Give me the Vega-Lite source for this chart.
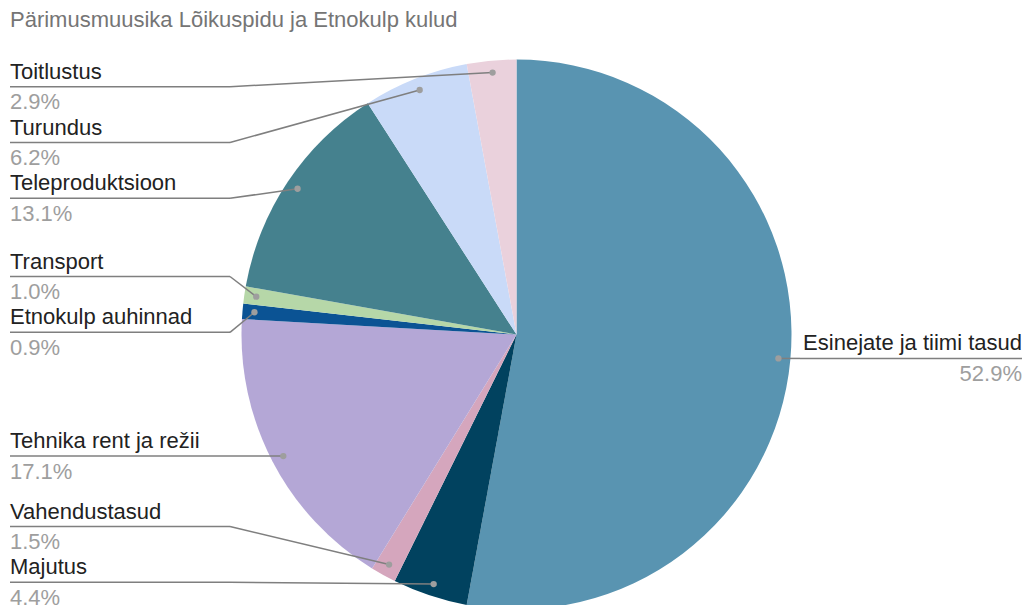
{
  "$schema": "https://vega.github.io/schema/vega-lite/v6.json",
  "width": 1033,
  "height": 589,
  "padding": {"left": 0, "top": 40, "right": 0, "bottom": 0},
  "autosize": {"type": "none"},
  "background": "white",
  "config": {"view": {"stroke": null}, "font": "Liberation Sans"},
  "title": {
    "text": "Pärimusmuusika Lõikuspidu ja Etnokulp kulud",
    "anchor": "start",
    "frame": "group",
    "dx": 10,
    "offset": 8,
    "fontSize": 22,
    "fontWeight": "normal",
    "color": "#757575",
    "font": "Liberation Sans"
  },
  "data": {
    "values": [
      {"kulu": "Esinejate ja tiimi tasud", "osa": 52.9},
      {"kulu": "Majutus", "osa": 4.4},
      {"kulu": "Vahendustasud", "osa": 1.5},
      {"kulu": "Tehnika rent ja režii", "osa": 17.1},
      {"kulu": "Etnokulp auhinnad", "osa": 0.9},
      {"kulu": "Transport", "osa": 1.0},
      {"kulu": "Teleproduktsioon", "osa": 13.1},
      {"kulu": "Turundus", "osa": 6.2},
      {"kulu": "Toitlustus", "osa": 2.9}
    ]
  },
  "transform": [
    {"window": [{"op": "row_number", "as": "jrk"}]},
    {"window": [{"op": "sum", "field": "osa", "as": "kum"}], "sort": [{"field": "jrk"}], "frame": [null, 0]},
    {"joinaggregate": [{"op": "sum", "field": "osa", "as": "kokku"}]},
    {"calculate": "2*PI*(datum.kum - datum.osa/2)/datum.kokku", "as": "nurk"},
    {"calculate": "516.5 + 263*sin(datum.nurk)", "as": "px"},
    {"calculate": "334.5 - 263*cos(datum.nurk)", "as": "py"},
    {"calculate": "datum.px < 516.5 ? 'L' : 'R'", "as": "pool"},
    {"window": [{"op": "row_number", "as": "i"}], "groupby": ["pool"], "sort": [{"field": "py"}]},
    {"joinaggregate": [{"op": "count", "as": "n"}], "groupby": ["pool"]},
    {"calculate": "datum.py - 55.8*datum.i", "as": "z"},
    {"window": [{"op": "max", "field": "z", "as": "zf"}], "groupby": ["pool"], "sort": [{"field": "py"}], "frame": [null, 0]},
    {"window": [{"op": "min", "field": "z", "as": "zb"}], "groupby": ["pool"], "sort": [{"field": "py"}], "frame": [0, null]},
    {"calculate": "max(86.7 - 55.8, datum.zf)", "as": "wf"},
    {"calculate": "min(582.3 - 55.8*datum.n, datum.zb)", "as": "wg"},
    {"window": [{"op": "min", "field": "wf", "as": "wfm"}], "groupby": ["pool"], "sort": [{"field": "py"}], "frame": [0, null]},
    {"window": [{"op": "max", "field": "wg", "as": "wgm"}], "groupby": ["pool"], "sort": [{"field": "py"}], "frame": [null, 0]},
    {"calculate": "55.8*datum.i + (min(582.3 - 55.8*datum.n, datum.wfm) + max(86.7 - 55.8, datum.wgm))/2", "as": "ly"},
    {"calculate": "datum.pool == 'L' ? 10 : 1022", "as": "lx"},
    {"calculate": "datum.pool == 'L' ? 230 : 800", "as": "ex"},
    {"calculate": "format(datum.osa, '.1f') + '%'", "as": "pct"}
  ],
  "layer": [
    {
      "mark": {"type": "arc", "radius": 275},
      "encoding": {
        "theta": {"field": "osa", "type": "quantitative", "stack": true},
        "order": {"field": "jrk", "type": "quantitative"},
        "color": {
          "field": "kulu",
          "type": "nominal",
          "legend": null,
          "scale": {
            "domain": ["Esinejate ja tiimi tasud", "Majutus", "Vahendustasud", "Tehnika rent ja režii", "Etnokulp auhinnad", "Transport", "Teleproduktsioon", "Turundus", "Toitlustus"],
            "range": ["#5994b1", "#01425f", "#d5a6bd", "#b4a7d6", "#0b5394", "#b6d7a8", "#45818e", "#c9daf8", "#ead1dc"]
          }
        }
      }
    },
    {
      "mark": {"type": "rule", "color": "#7f7f7f", "strokeWidth": 1.5},
      "encoding": {
        "x": {"field": "lx", "type": "quantitative", "scale": {"domain": [0, 1033], "nice": false, "zero": false}, "axis": null},
        "x2": {"field": "ex"},
        "y": {"field": "ly", "type": "quantitative", "scale": {"domain": [40, 629], "nice": false, "zero": false, "reverse": true}, "axis": null}
      }
    },
    {
      "mark": {"type": "rule", "color": "#7f7f7f", "strokeWidth": 1.5},
      "encoding": {
        "x": {"field": "ex", "type": "quantitative", "scale": {"domain": [0, 1033], "nice": false, "zero": false}, "axis": null},
        "x2": {"field": "px"},
        "y": {"field": "ly", "type": "quantitative", "scale": {"domain": [40, 629], "nice": false, "zero": false, "reverse": true}, "axis": null},
        "y2": {"field": "py"}
      }
    },
    {
      "mark": {"type": "circle", "size": 40, "color": "#9e9e9e", "opacity": 1},
      "encoding": {
        "x": {"field": "px", "type": "quantitative", "scale": {"domain": [0, 1033], "nice": false, "zero": false}, "axis": null},
        "y": {"field": "py", "type": "quantitative", "scale": {"domain": [40, 629], "nice": false, "zero": false, "reverse": true}, "axis": null}
      }
    },
    {
      "transform": [{"filter": "datum.pool == 'L'"}],
      "mark": {"type": "text", "align": "left", "baseline": "alphabetic", "dy": -8, "fontSize": 22, "color": "#222222"},
      "encoding": {
        "x": {"field": "lx", "type": "quantitative", "scale": {"domain": [0, 1033], "nice": false, "zero": false}, "axis": null},
        "y": {"field": "ly", "type": "quantitative", "scale": {"domain": [40, 629], "nice": false, "zero": false, "reverse": true}, "axis": null},
        "text": {"field": "kulu"}
      }
    },
    {
      "transform": [{"filter": "datum.pool == 'L'"}],
      "mark": {"type": "text", "align": "left", "baseline": "alphabetic", "dy": 22.6, "fontSize": 22, "color": "#9e9e9e"},
      "encoding": {
        "x": {"field": "lx", "type": "quantitative", "scale": {"domain": [0, 1033], "nice": false, "zero": false}, "axis": null},
        "y": {"field": "ly", "type": "quantitative", "scale": {"domain": [40, 629], "nice": false, "zero": false, "reverse": true}, "axis": null},
        "text": {"field": "pct"}
      }
    },
    {
      "transform": [{"filter": "datum.pool == 'R'"}],
      "mark": {"type": "text", "align": "right", "baseline": "alphabetic", "dy": -8, "fontSize": 22, "color": "#222222"},
      "encoding": {
        "x": {"field": "lx", "type": "quantitative", "scale": {"domain": [0, 1033], "nice": false, "zero": false}, "axis": null},
        "y": {"field": "ly", "type": "quantitative", "scale": {"domain": [40, 629], "nice": false, "zero": false, "reverse": true}, "axis": null},
        "text": {"field": "kulu"}
      }
    },
    {
      "transform": [{"filter": "datum.pool == 'R'"}],
      "mark": {"type": "text", "align": "right", "baseline": "alphabetic", "dy": 22.6, "fontSize": 22, "color": "#9e9e9e"},
      "encoding": {
        "x": {"field": "lx", "type": "quantitative", "scale": {"domain": [0, 1033], "nice": false, "zero": false}, "axis": null},
        "y": {"field": "ly", "type": "quantitative", "scale": {"domain": [40, 629], "nice": false, "zero": false, "reverse": true}, "axis": null},
        "text": {"field": "pct"}
      }
    }
  ]
}
